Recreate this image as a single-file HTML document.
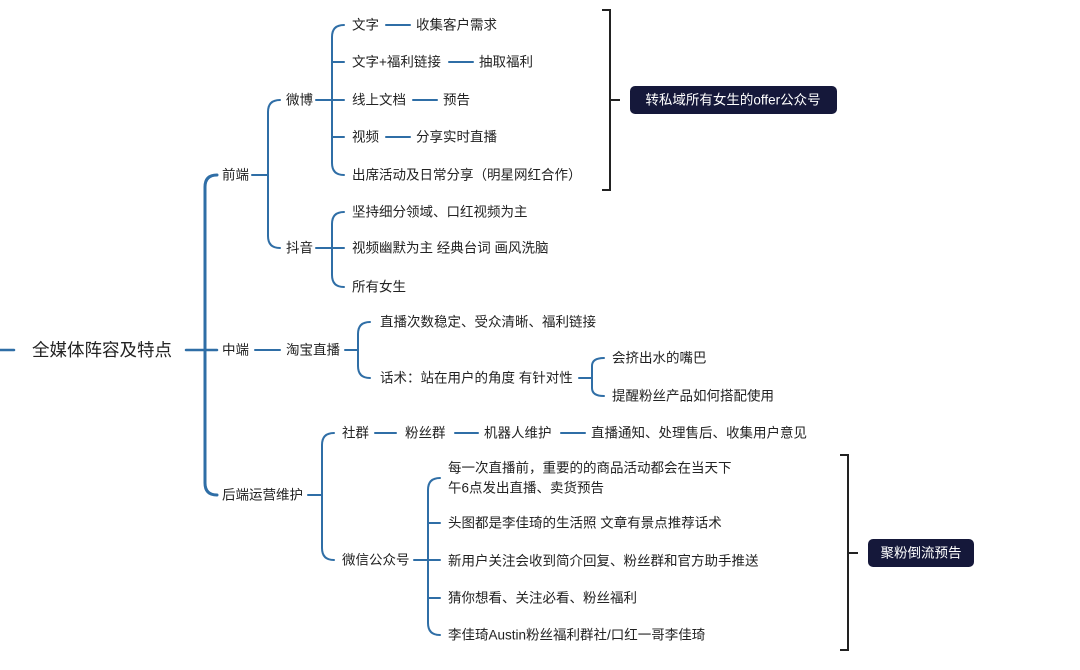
<!DOCTYPE html>
<html><head><meta charset="utf-8"><style>
html,body{margin:0;padding:0;background:#fff;}
svg{display:block}
text{font-family:"Liberation Sans","Noto Sans CJK SC",sans-serif;font-size:13.5px;fill:#222;dominant-baseline:central}
</style></head><body>
<svg width="1080" height="670" viewBox="0 0 1080 670" xmlns="http://www.w3.org/2000/svg">
<g fill="none" stroke="#2f6ea6" stroke-width="2" stroke-linecap="round">
<!-- root -->
<path d="M0 350 H14" stroke-width="2.5"/>
<path d="M186 350 H205" stroke-width="2.5"/>
<path d="M217 175 Q205 175 205 187 V483 Q205 495 217 495" stroke-width="3"/>
<path d="M205 350 H217" stroke-width="2.5"/>
<!-- 前端 -->
<path d="M252 175 H268"/>
<path d="M280 100 Q268 100 268 112 V236 Q268 248 280 248"/>
<!-- 微博 -->
<path d="M316 100 H344"/>
<path d="M344 25 Q332 25 332 37 V163 Q332 175 344 175"/>
<path d="M332 62 Q332 62 344 62"/><path d="M332 137 H344"/>
<path d="M386 25 H410"/><path d="M449 62 H473"/><path d="M413 100 H437"/><path d="M386 137 H410"/>
<!-- 抖音 -->
<path d="M316 248 H344"/>
<path d="M344 212 Q332 212 332 224 V275 Q332 287 344 287"/>
<!-- 中端 -->
<path d="M255 350 H280"/>
<path d="M345 350 H358"/>
<path d="M370 322 Q358 322 358 334 V366 Q358 378 370 378"/>
<path d="M579 378 H592"/>
<path d="M604 358 Q592 358 592 366 V388 Q592 396 604 396"/>
<!-- 后端 -->
<path d="M308 495 H322"/>
<path d="M334 433 Q322 433 322 445 V548 Q322 560 334 560"/>
<path d="M375 433 H396"/><path d="M455 433 H478"/><path d="M561 433 H585"/>
<path d="M414 560 H440"/>
<path d="M440 478 Q428 478 428 490 V623 Q428 635 440 635"/>
<path d="M428 523 H440"/><path d="M428 598 H440"/>
</g>
<g fill="none" stroke="#222" stroke-width="2">
<path d="M602 10 H610 V190 H602"/><path d="M610 100 H620"/>
<path d="M840 455 H848 V650 H840"/><path d="M848 553 H858"/>
</g>
<rect x="630" y="86" width="207" height="28" rx="5" fill="#15183a"/>
<text x="733" y="100" text-anchor="middle" style="fill:#fff">转私域所有女生的offer公众号</text>
<rect x="868" y="539" width="106" height="28" rx="5" fill="#15183a"/>
<text x="921" y="553" text-anchor="middle" style="fill:#fff">聚粉倒流预告</text>

<text x="32" y="350" style="font-size:17.5px">全媒体阵容及特点</text>
<text x="222" y="175">前端</text>
<text x="222" y="350">中端</text>
<text x="222" y="495">后端运营维护</text>
<text x="286" y="100">微博</text>
<text x="286" y="248">抖音</text>
<text x="352" y="25">文字</text><text x="416" y="25">收集客户需求</text>
<text x="352" y="62">文字+福利链接</text><text x="479" y="62">抽取福利</text>
<text x="352" y="100">线上文档</text><text x="443" y="100">预告</text>
<text x="352" y="137">视频</text><text x="416" y="137">分享实时直播</text>
<text x="352" y="175">出席活动及日常分享（明星网红合作）</text>
<text x="352" y="212">坚持细分领域、口红视频为主</text>
<text x="352" y="248">视频幽默为主 经典台词 画风洗脑</text>
<text x="352" y="287">所有女生</text>
<text x="286" y="350">淘宝直播</text>
<text x="380" y="322">直播次数稳定、受众清晰、福利链接</text>
<text x="380" y="378">话术：站在用户的角度 有针对性</text>
<text x="612" y="358">会挤出水的嘴巴</text>
<text x="612" y="396">提醒粉丝产品如何搭配使用</text>
<text x="342" y="433">社群</text><text x="405" y="433">粉丝群</text><text x="484" y="433">机器人维护</text><text x="591" y="433">直播通知、处理售后、收集用户意见</text>
<text x="342" y="560">微信公众号</text>
<text x="448" y="468">每一次直播前，重要的的商品活动都会在当天下</text>
<text x="448" y="488">午6点发出直播、卖货预告</text>
<text x="448" y="523">头图都是李佳琦的生活照 文章有景点推荐话术</text>
<text x="448" y="561">新用户关注会收到简介回复、粉丝群和官方助手推送</text>
<text x="448" y="598">猜你想看、关注必看、粉丝福利</text>
<text x="448" y="635">李佳琦Austin粉丝福利群社/口红一哥李佳琦</text>
</svg>
</body></html>
